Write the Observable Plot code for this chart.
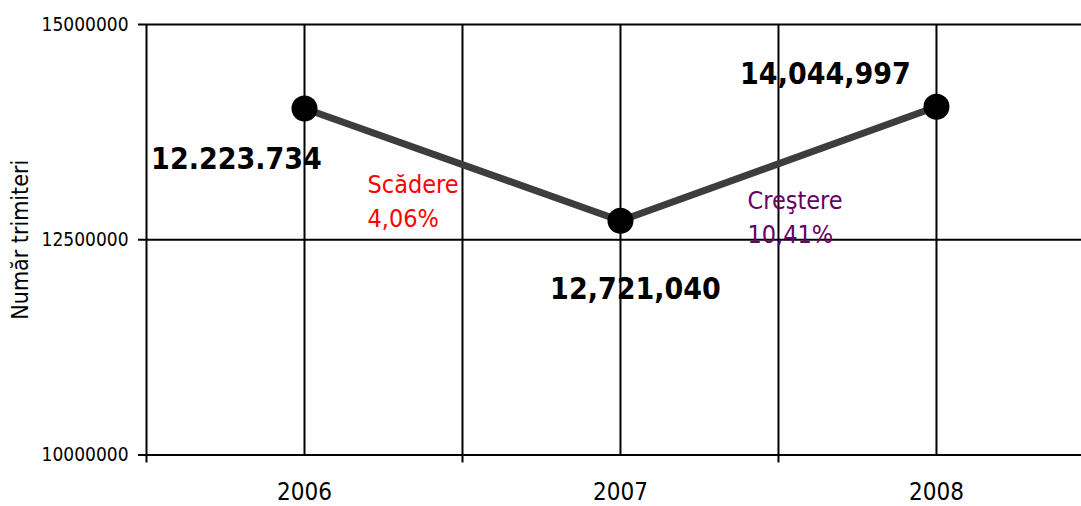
<!DOCTYPE html>
<html>
<head>
<meta charset="utf-8">
<script src="https://cdn.jsdelivr.net/npm/d3@7"></script>
<script src="https://cdn.jsdelivr.net/npm/@observablehq/plot@0.6"></script>
<style>
  html, body { margin: 0; padding: 0; background: white; overflow: hidden; }
</style>
</head>
<body>
<div id="chart"></div>
<script>
// Data
const years = [2006, 2007, 2008];
const values = [14025000, 12721040, 14044997];          // plotted positions
const valueLabels = ["12.223.734", "12,721,040", "14,044,997"];
const changeLabels = ["Scădere\n4,06%", "Creştere\n10,41%"];
const changeColors = ["#ff0000", "#660066"];
const yTicks = [10000000, 12500000, 15000000];
const yTitle = "Număr trimiteri";

const points = years.map((year, i) => ({year, value: values[i], label: valueLabels[i]}));
const boundaries = years.map(y => y - 0.5);
const verticalGrid = [...boundaries, ...years].sort((a, b) => a - b);

const FONT = '"DejaVu Sans Condensed", "DejaVu Sans", sans-serif';

const chart = Plot.plot({
  width: 1081,
  height: 506,
  marginLeft: 146,
  marginRight: 0,
  marginTop: 24,
  marginBottom: 51.5,
  style: {fontFamily: FONT, fontStretch: "condensed", background: "white", color: "black", overflow: "visible"},
  x: {domain: [years[0] - 0.5, years[years.length - 1] + 0.459]},
  y: {domain: [yTicks[0], yTicks[yTicks.length - 1]]},
  marks: [
    // grid
    Plot.ruleY(yTicks, {stroke: "black", strokeWidth: 2}),
    Plot.ruleX(verticalGrid, {y1: yTicks[0], y2: yTicks[yTicks.length - 1], stroke: "black", strokeWidth: 2}),
    // axes
    Plot.axisY({ticks: yTicks, tickSize: 8, tickPadding: 10, fontSize: 19, strokeWidth: 2,
      tickFormat: d => String(d), label: null}),
    Plot.axisX({ticks: boundaries, tickSize: 8, strokeWidth: 2, tickFormat: () => "", label: null}),
    Plot.axisX({ticks: years, tickSize: 0, tickPadding: 28, fontSize: 24,
      tickFormat: d => String(d), label: null}),
    Plot.text([yTitle], {text: d => d, frameAnchor: "left", rotate: -90, dx: -126,
      fontSize: 23, textAnchor: "middle", lineAnchor: "middle", fill: "black"}),
    // series
    Plot.line(points, {x: "year", y: "value", stroke: "#3d3d3d", strokeWidth: 7}),
    Plot.dot(points, {x: "year", y: "value", r: 13, fill: "black", stroke: "none"}),
    // value labels
    Plot.text([points[0]], {x: "year", y: "value", text: "label", dx: -68, dy: 61,
      lineAnchor: "bottom", textAnchor: "middle", fontSize: 30, fontWeight: "bold", fill: "black"}),
    Plot.text([points[1]], {x: "year", y: "value", text: "label", dx: 15, dy: 78,
      lineAnchor: "bottom", textAnchor: "middle", fontSize: 30, fontWeight: "bold", fill: "black"}),
    Plot.text([points[2]], {x: "year", y: "value", text: "label", dx: -111, dy: -23,
      lineAnchor: "bottom", textAnchor: "middle", fontSize: 30, fontWeight: "bold", fill: "black"}),
    // change annotations
    Plot.text([points[0]], {x: "year", y: "value", text: () => changeLabels[0], dx: 63, dy: 118.5,
      lineAnchor: "bottom", textAnchor: "start", fontSize: 25, lineHeight: 1.36, fill: changeColors[0]}),
    Plot.text([points[1]], {x: "year", y: "value", text: () => changeLabels[1], dx: 127, dy: 22,
      lineAnchor: "bottom", textAnchor: "start", fontSize: 25, lineHeight: 1.36, fill: changeColors[1]})
  ]
});
document.getElementById("chart").appendChild(chart);
</script>
</body>
</html>
